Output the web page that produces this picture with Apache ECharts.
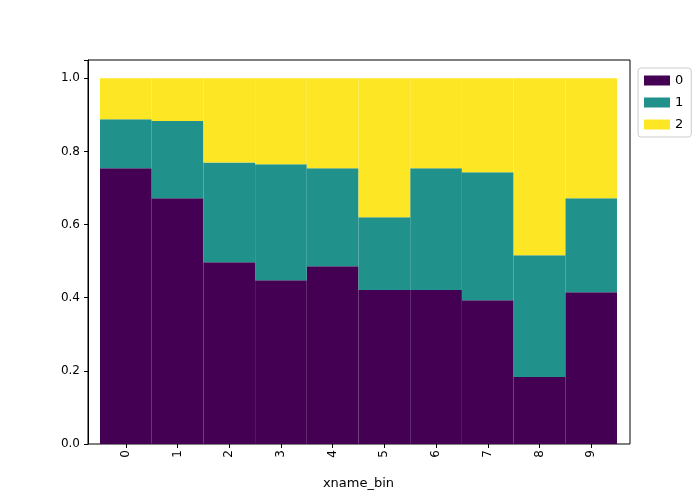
<!DOCTYPE html>
<html>
<head>
<meta charset="utf-8">
<script src="https://cdn.jsdelivr.net/npm/echarts@6/dist/echarts.min.js"></script>
<style>html,body{margin:0;padding:0;background:#fff}#chart{width:700px;height:500px}</style>
</head>
<body>
<div id="chart"></div>
<script>
var categories = ['0', '1', '2', '3', '4', '5', '6', '7', '8', '9'];
// cumulative tops
var top0 = [0.754, 0.672, 0.497, 0.448, 0.486, 0.421, 0.421, 0.393, 0.183, 0.415];
var top1 = [0.888, 0.883, 0.770, 0.765, 0.754, 0.620, 0.754, 0.743, 0.516, 0.672];

var s0 = top0.slice();
var s1 = top1.map(function (v, i) { return +(v - top0[i]).toFixed(3); });
var s2 = top1.map(function (v) { return +(1 - v).toFixed(3); });

var colors = ['#440154', '#21918c', '#fde725'];
var font = 'DejaVu Sans';

var myChart = echarts.init(document.getElementById('chart'));
var option = {
  animation: false,
  textStyle: { fontFamily: font },
  color: colors,
  legend: {
    data: ['0', '1', '2'],
    orient: 'vertical',
    left: 638, top: 68,
    itemWidth: 26, itemHeight: 10, itemGap: 9,
    padding: [6, 8, 6, 6],
    borderColor: '#ccc', borderWidth: 1, borderRadius: 3,
    textStyle: { fontSize: 13, color: '#000', fontFamily: font },
    icon: 'rect'
  },
  grid: [
    { left: 88, right: 70, top: 60, bottom: 56, show: true, borderColor: '#000', borderWidth: 1, backgroundColor: 'transparent' },
    { left: 100, right: 83, top: 60, bottom: 56 }
  ],
  xAxis: [
    { gridIndex: 0, type: 'value', show: false, min: 0, max: 1 },
    {
      gridIndex: 1, type: 'category', data: categories,
      name: 'xname_bin', nameLocation: 'middle', nameGap: 33,
      nameTextStyle: { fontSize: 13, color: '#000', fontFamily: font },
      axisLine: { show: false },
      axisTick: { show: true, alignWithLabel: true, length: 4, lineStyle: { color: '#000' } },
      axisLabel: { rotate: 90, fontSize: 12, color: '#000', margin: 6, fontFamily: font }
    }
  ],
  yAxis: [
    {
      gridIndex: 0, type: 'value', min: 0, max: 1.05, interval: 0.2,
      axisLine: { show: true, lineStyle: { color: '#000' } },
      axisTick: { show: true, length: 4, lineStyle: { color: '#000' } },
      splitLine: { show: false },
      axisLabel: {
        fontSize: 12, color: '#000', fontFamily: font,
        formatter: function (v) { return v > 1.01 ? '' : v.toFixed(1); }
      }
    },
    { gridIndex: 1, type: 'value', min: 0, max: 1.05, show: false }
  ],
  series: [
    { name: '0', type: 'bar', stack: 'a', xAxisIndex: 1, yAxisIndex: 1, barWidth: '100%', data: s0 },
    { name: '1', type: 'bar', stack: 'a', xAxisIndex: 1, yAxisIndex: 1, barWidth: '100%', data: s1 },
    { name: '2', type: 'bar', stack: 'a', xAxisIndex: 1, yAxisIndex: 1, barWidth: '100%', data: s2 }
  ]
};
myChart.setOption(option);
</script>
</body>
</html>
